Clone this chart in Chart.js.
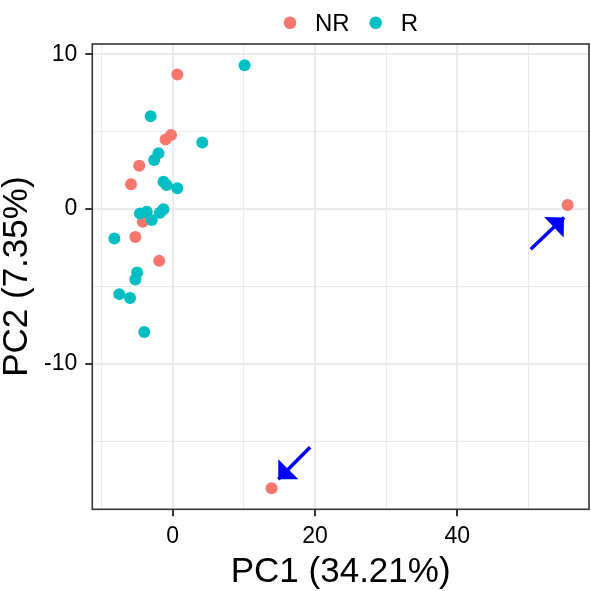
<!DOCTYPE html>
<html>
<head>
<meta charset="utf-8">
<title>PCA</title>
<script src="https://cdn.jsdelivr.net/npm/chart.js@4.4.1/dist/chart.umd.min.js"></script>
<style>
    html, body { margin: 0; padding: 0; background: #fff; overflow: hidden; }
    #wrap { width: 591px; height: 591px; position: relative; }
    #pcaChart { display: block; }
</style>
</head>
<body>
<div id="wrap"><canvas id="pcaChart"></canvas></div>
<script>
// Sample scores on the first two principal components
const groups = ['NR', 'R'];
const groupColors = ['#F8766D', '#00BFC4'];

const nrX = [0.65, -0.24, -1.0, -4.7, -5.86, -4.2, -5.25, -1.9, 13.9, 55.5];
const nrY = [8.7, 4.78, 4.5, 2.8, 1.6, -0.82, -1.8, -3.35, -18.05, 0.26];

const rX = [10.1, -3.1, 4.16, -2.0, -2.6, -1.3, -0.85, 0.65, -4.6, -3.65, -2.95, -1.8, -1.3, -8.2, -5.0, -5.25, -7.5, -6.0, -4.0];
const rY = [9.3, 6.0, 4.3, 3.6, 3.17, 1.77, 1.55, 1.34, -0.28, -0.17, -0.71, -0.24, -0.02, -1.9, -4.1, -4.55, -5.5, -5.75, -7.95];

// Grid positions (major ones get a label)
const xGrid = [-10, 0, 10, 20, 30, 40, 50];
const yGrid = [-15, -10, -5, 0, 5, 10];

// Arrows pointing at the two outliers (data units)
const arrowFromX = [19.3, 50.3];
const arrowFromY = [-15.4, -2.6];
const arrowToX = [14.84, 55.0];
const arrowToY = [-17.47, -0.54];

const FONT = '"Liberation Sans", Arial, sans-serif';
Chart.defaults.font.family = FONT;
Chart.defaults.color = '#000';

function toPoints(xs, ys) {
    return xs.map(function(x, i) { return { x: x, y: ys[i] }; });
}

// Drop the label overhang padding so the panel fills the canvas like ggplot does
function noPadding(scale) {
    scale.paddingLeft = 0;
    scale.paddingRight = 0;
    scale.paddingTop = 0;
    scale.paddingBottom = 0;
}

// Blue arrows with a closed head
const arrowPlugin = {
    id: 'arrows',
    afterDatasetsDraw: function(chart) {
        const ctx = chart.ctx;
        const xs = chart.scales.x;
        const ys = chart.scales.y;
        ctx.save();
        ctx.strokeStyle = '#0000FF';
        ctx.fillStyle = '#0000FF';
        ctx.lineWidth = 3.5;
        for (let i = 0; i < arrowFromX.length; i++) {
            const x0 = xs.getPixelForValue(arrowFromX[i]);
            const y0 = ys.getPixelForValue(arrowFromY[i]);
            const x1 = xs.getPixelForValue(arrowToX[i]);
            const y1 = ys.getPixelForValue(arrowToY[i]);
            const ang = Math.atan2(y0 - y1, x0 - x1);
            const len = 20;
            const spread = Math.PI / 4;
            ctx.beginPath();
            ctx.moveTo(x0, y0);
            ctx.lineTo(x1, y1);
            ctx.stroke();
            ctx.beginPath();
            ctx.moveTo(x1, y1);
            ctx.lineTo(x1 + len * Math.cos(ang - spread), y1 + len * Math.sin(ang - spread));
            ctx.lineTo(x1 + len * Math.cos(ang + spread), y1 + len * Math.sin(ang + spread));
            ctx.closePath();
            ctx.fill();
        }
        ctx.restore();
    }
};

// Panel border plus the legend above the panel
const framePlugin = {
    id: 'frame',
    afterDraw: function(chart) {
        const ctx = chart.ctx;
        const a = chart.chartArea;
        ctx.save();
        ctx.strokeStyle = '#333333';
        ctx.lineWidth = 1.6;
        ctx.strokeRect(a.left, a.top, a.right - a.left, a.bottom - a.top);

        // legend
        ctx.font = '24px ' + FONT;
        ctx.textBaseline = 'middle';
        ctx.textAlign = 'left';
        let x = 290;
        chart.data.datasets.forEach(function(ds) {
            ctx.fillStyle = ds.backgroundColor;
            ctx.beginPath();
            ctx.arc(x, 22.7, 6.3, 0, Math.PI * 2);
            ctx.fill();
            ctx.fillStyle = '#000';
            ctx.fillText(ds.label, x + 25, 24);
            x += 25 + ctx.measureText(ds.label).width + 26;
        });
        ctx.restore();
    }
};

document.addEventListener('DOMContentLoaded', function() {
    const pcaCtx = document.getElementById('pcaChart');
    if (pcaCtx) {
        new Chart(pcaCtx, {
            type: 'scatter',
            data: {
                datasets: [
                    {
                        label: groups[0],
                        data: toPoints(nrX, nrY),
                        backgroundColor: groupColors[0],
                        borderWidth: 0,
                        pointRadius: 6,
                        pointHoverRadius: 6,
                        order: 1
                    },
                    {
                        label: groups[1],
                        data: toPoints(rX, rY),
                        backgroundColor: groupColors[1],
                        borderWidth: 0,
                        pointRadius: 6,
                        pointHoverRadius: 6,
                        order: 0
                    }
                ]
            },
            options: {
                responsive: true,
                maintainAspectRatio: false,
                animation: false,
                layout: {
                    autoPadding: false,
                    padding: { top: 44, right: 2, left: 0, bottom: 0 }
                },
                plugins: {
                    legend: { display: false },
                    tooltip: { enabled: false }
                },
                scales: {
                    x: {
                        type: 'linear',
                        min: -11.3,
                        max: 58.5,
                        afterBuildTicks: function(scale) {
                            scale.ticks = xGrid.map(function(v) { return { value: v }; });
                        },
                        afterFit: function(scale) {
                            scale.height = 81.7;
                            noPadding(scale);
                        },
                        ticks: {
                            autoSkip: false,
                            maxRotation: 0,
                            padding: 7,
                            color: '#000',
                            font: { size: 23 },
                            callback: function(v) { return v % 20 === 0 ? v : ''; }
                        },
                        grid: {
                            color: '#EBEBEB',
                            lineWidth: function(c) { return c.tick && c.tick.value % 20 === 0 ? 2 : 1; },
                            tickColor: function(c) { return c.tick && c.tick.value % 20 === 0 ? '#333333' : 'rgba(0,0,0,0)'; },
                            tickLength: 7,
                            tickWidth: 2
                        },
                        border: { display: false },
                        title: {
                            display: true,
                            text: 'PC1 (34.21%)',
                            color: '#000',
                            font: { size: 35, lineHeight: 1 },
                            padding: { top: 0, bottom: 1 }
                        }
                    },
                    y: {
                        type: 'linear',
                        min: -19.41,
                        max: 10.67,
                        afterBuildTicks: function(scale) {
                            scale.ticks = yGrid.map(function(v) { return { value: v }; });
                        },
                        afterFit: function(scale) {
                            scale.width = 92.3;
                            noPadding(scale);
                        },
                        ticks: {
                            autoSkip: false,
                            padding: 8,
                            color: '#000',
                            font: { size: 23 },
                            callback: function(v) { return v % 10 === 0 ? v : ''; }
                        },
                        grid: {
                            color: '#EBEBEB',
                            lineWidth: function(c) { return c.tick && c.tick.value % 10 === 0 ? 2 : 1; },
                            tickColor: function(c) { return c.tick && c.tick.value % 10 === 0 ? '#333333' : 'rgba(0,0,0,0)'; },
                            tickLength: 7,
                            tickWidth: 2
                        },
                        border: { display: false },
                        title: {
                            display: true,
                            text: 'PC2 (7.35%)',
                            color: '#000',
                            font: { size: 35, lineHeight: 1 },
                            padding: { top: 0, bottom: 0 }
                        }
                    }
                }
            },
            plugins: [arrowPlugin, framePlugin]
        });
    }
});
</script>
</body>
</html>
